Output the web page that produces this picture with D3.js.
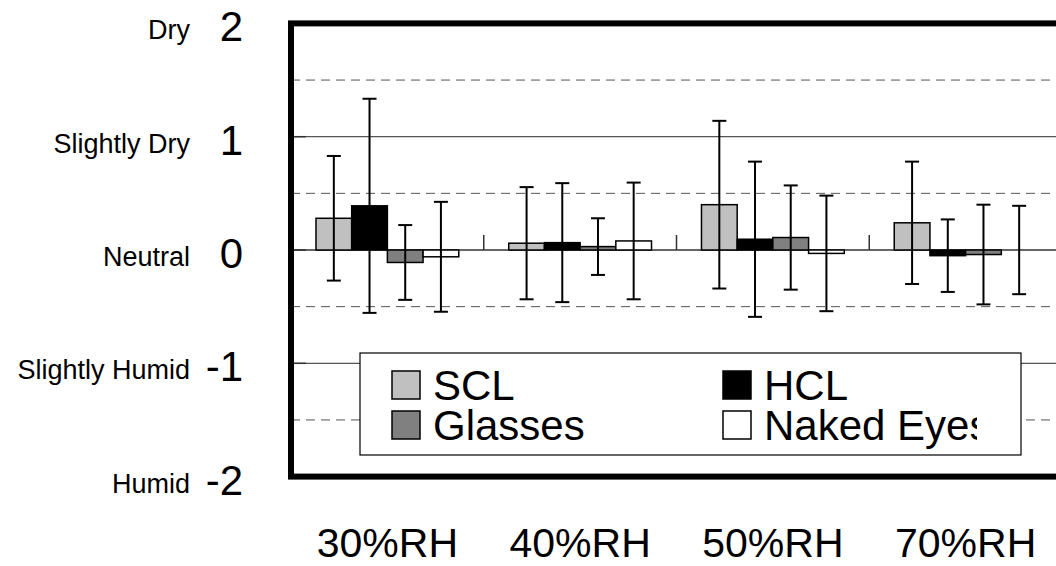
<!DOCTYPE html>
<html>
<head>
<meta charset="utf-8">
<script src="https://cdn.jsdelivr.net/npm/d3@7"></script>
<style>
  body { margin: 0; background: #fff; }
  svg { display: block; font-family: "Liberation Sans", Arial, sans-serif; }
</style>
</head>
<body>
<div id="chart"></div>
<script>
// humidity conditions and groups
const conditions = ["30%RH", "40%RH", "50%RH", "70%RH"];
const series = ["SCL", "HCL", "Glasses", "Naked Eyes"];
const seriesColors = ["#c0c0c0", "#000000", "#808080", "#ffffff"];

// mean sensation score per condition, one array per series
const meanSCL = [0.28, 0.06, 0.40, 0.24];
const meanHCL = [0.39, 0.065, 0.095, -0.05];
const meanGlasses = [-0.11, 0.03, 0.11, -0.04];
const meanNaked = [-0.06, 0.08, -0.03, 0.0];

// standard deviations (error bars)
const sdSCL = [0.55, 0.495, 0.74, 0.54];
const sdHCL = [0.945, 0.525, 0.685, 0.32];
const sdGlasses = [0.33, 0.25, 0.46, 0.44];
const sdNaked = [0.485, 0.515, 0.51, 0.39];

const yTicks = [2, 1, 0, -1, -2];
const yTickNames = ["Dry", "Slightly Dry", "Neutral", "Slightly Humid", "Humid"];
const dashedLevels = [1.5, 0.5, -0.5, -1.5];
const solidLevels = [1, -1];

const means = [meanSCL, meanHCL, meanGlasses, meanNaked];
const sds = [sdSCL, sdHCL, sdGlasses, sdNaked];

const rows = [];
conditions.forEach((c, i) => {
    series.forEach((s, j) => {
        rows.push({cond: c, series: s, color: seriesColors[j], mean: means[j][i], sd: sds[j][i]});
    });
});

const W = 1056, H = 566;
const plot = {left: 291, right: 1062, top: 23.4, bottom: 476.6};

const svg = d3.select("#chart")
    .append("svg")
    .attr("width", W)
    .attr("height", H);

const x0 = d3.scaleBand()
    .domain(conditions)
    .range([plot.left, plot.right])
    .padding(0);

const x1 = d3.scaleBand()
    .domain(series)
    .range([0, x0.bandwidth()])
    .paddingInner(0)
    .paddingOuter(0.7);

const y = d3.scaleLinear()
    .domain([-2, 2])
    .range([plot.bottom, plot.top]);

// gridlines
svg.append("g")
    .selectAll("line")
    .data(dashedLevels)
    .join("line")
    .attr("x1", plot.left).attr("x2", plot.right)
    .attr("y1", d => y(d)).attr("y2", d => y(d))
    .attr("stroke", "#555")
    .attr("stroke-width", 1)
    .attr("stroke-dasharray", "9,6");

svg.append("g")
    .selectAll("line")
    .data(solidLevels)
    .join("line")
    .attr("x1", plot.left).attr("x2", plot.right)
    .attr("y1", d => y(d)).attr("y2", d => y(d))
    .attr("stroke", "#555")
    .attr("stroke-width", 1.2);

// inner y ticks
svg.append("g")
    .selectAll("line")
    .data(yTicks)
    .join("line")
    .attr("x1", plot.left).attr("x2", plot.left + 15)
    .attr("y1", d => y(d)).attr("y2", d => y(d))
    .attr("stroke", "#333")
    .attr("stroke-width", 1.5);

// zero axis with category ticks pointing up
const xAxis = svg.append("g")
    .attr("transform", `translate(0,${y(0)})`);
xAxis.append("line")
    .attr("x1", plot.left).attr("x2", plot.right)
    .attr("stroke", "#333")
    .attr("stroke-width", 1.5);
xAxis.selectAll(".cat-tick")
    .data(conditions.slice(1))
    .join("line")
    .attr("class", "cat-tick")
    .attr("x1", d => x0(d)).attr("x2", d => x0(d))
    .attr("y1", 0).attr("y2", -15)
    .attr("stroke", "#333")
    .attr("stroke-width", 1.5);

// bars
const bars = svg.append("g");
bars.selectAll("rect")
    .data(rows)
    .join("rect")
    .attr("x", d => x0(d.cond) + x1(d.series))
    .attr("width", x1.bandwidth())
    .attr("y", d => y(Math.max(0, d.mean)))
    .attr("height", d => Math.abs(y(d.mean) - y(0)))
    .attr("fill", d => d.color)
    .attr("stroke", "#000")
    .attr("stroke-width", 1.5);

// error bars
const err = svg.append("g")
    .attr("stroke", "#000")
    .attr("stroke-width", 2);
const capW = 7;
rows.forEach(d => {
    const cx = x0(d.cond) + x1(d.series) + x1.bandwidth() / 2;
    const hi = y(d.mean + d.sd), lo = y(d.mean - d.sd);
    err.append("line").attr("x1", cx).attr("x2", cx).attr("y1", hi).attr("y2", lo);
    err.append("line").attr("x1", cx - capW).attr("x2", cx + capW).attr("y1", hi).attr("y2", hi);
    err.append("line").attr("x1", cx - capW).attr("x2", cx + capW).attr("y1", lo).attr("y2", lo);
});

// legend
const legend = svg.append("g");
legend.append("rect")
    .attr("x", 360).attr("y", 353)
    .attr("width", 661).attr("height", 102)
    .attr("fill", "#fff")
    .attr("stroke", "#000")
    .attr("stroke-width", 1.2);

// legend text is cut short on the right, like the original
svg.append("clipPath").attr("id", "legclip")
    .append("rect").attr("x", 360).attr("y", 353).attr("width", 617).attr("height", 102);

const legPos = [[392, 371], [723, 371], [392, 411], [723, 411]];
series.forEach((s, i) => {
    const [lx, ly] = legPos[i];
    legend.append("rect")
        .attr("x", lx).attr("y", ly)
        .attr("width", 28).attr("height", 28)
        .attr("fill", seriesColors[i])
        .attr("stroke", "#000")
        .attr("stroke-width", 1.5);
    legend.append("text")
        .attr("x", lx + 41).attr("y", ly + 29)
        .attr("clip-path", "url(#legclip)")
        .style("font-size", "42px")
        .text(s);
});

// plot frame
svg.append("rect")
    .attr("x", plot.left).attr("y", plot.top)
    .attr("width", plot.right - plot.left)
    .attr("height", plot.bottom - plot.top)
    .attr("fill", "none")
    .attr("stroke", "#000")
    .attr("stroke-width", 6);

// y tick numbers and names
svg.append("g")
    .selectAll("text")
    .data(yTicks)
    .join("text")
    .attr("x", 243)
    .attr("y", d => y(d) + 18)
    .attr("text-anchor", "end")
    .style("font-size", "42px")
    .text(d => d);

svg.append("g")
    .selectAll("text")
    .data(yTickNames)
    .join("text")
    .attr("x", 190)
    .attr("y", (d, i) => y(yTicks[i]) + 16)
    .attr("text-anchor", "end")
    .style("font-size", "27px")
    .text(d => d);

// x category labels
svg.append("g")
    .selectAll("text")
    .data(conditions)
    .join("text")
    .attr("x", d => x0(d) + x0.bandwidth() / 2)
    .attr("y", 557)
    .attr("text-anchor", "middle")
    .style("font-size", "41px")
    .text(d => d);
</script>
</body>
</html>
